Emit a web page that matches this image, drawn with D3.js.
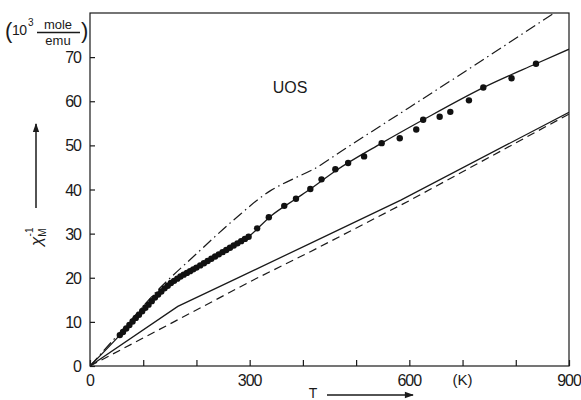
<!DOCTYPE html>
<html>
<head>
<meta charset="utf-8">
<script src="https://cdn.jsdelivr.net/npm/d3@7"></script>
<style>
  body { margin: 0; background: #fff; }
  svg text { font-family: "Liberation Sans", "DejaVu Sans", sans-serif; fill: #1a1a1a; }
</style>
</head>
<body>
<div id="chart"></div>
<script>
"use strict";

// tick labels
var tempLabels = [0, 300, 600, 900];
var tempMinor = [100, 200, 400, 500, 700, 800];
var chiLabels = [0, 10, 20, 30, 40, 50, 60, 70];

// measured points (T in K, inverse susceptibility in 10^3 mole/emu)
var dotT = [56, 62, 68, 74, 80, 86, 92, 98, 104, 110, 116, 122, 128, 134, 140, 146, 152, 158, 164, 170,
    176, 182, 188, 194, 200, 207, 214, 221, 228, 235, 242, 249, 256, 263, 270, 277, 284, 291, 298,
    314, 336, 365, 387, 414, 435, 461, 485, 515, 548, 582, 613, 626, 657, 677, 712, 739, 792, 838];
var dotChi = [7.0, 7.7, 8.5, 9.3, 10.1, 10.9, 11.6, 12.4, 13.2, 13.9, 14.7, 15.5, 16.2, 16.9, 17.6, 18.2, 18.8, 19.3, 19.8, 20.3,
    20.7, 21.1, 21.5, 21.9, 22.3, 22.8, 23.3, 23.8, 24.3, 24.8, 25.3, 25.8, 26.3, 26.8, 27.3, 27.8, 28.3, 28.8, 29.3,
    31.2, 33.7, 36.3, 37.9, 40.1, 42.3, 44.6, 46.0, 47.5, 50.5, 51.6, 53.6, 55.8, 56.5, 57.6, 60.2, 63.1, 65.2, 68.5];

// upper solid curve (fit through the points)
var fitT = [0, 56, 100, 148, 198, 245, 300, 340, 387, 414, 461, 548, 626, 739, 838, 900];
var fitChi = [0, 7.0, 13.0, 18.4, 22.0, 25.2, 29.5, 34.0, 37.9, 40.1, 44.2, 50.5, 55.8, 63.1, 68.5, 71.8];

// dash-dot curve
var dashDotT = [0, 66, 130, 198, 270, 340, 380, 420, 480, 600, 750, 872];
var dashDotChi = [0, 8.9, 17.5, 25.2, 33.1, 39.8, 42.3, 44.6, 49.3, 58.6, 70.3, 80];

// lower solid curve
var lowSolidT = [0, 165, 270, 414, 584, 900];
var lowSolidChi = [0, 13.5, 19.5, 27.8, 37.6, 57.5];

// lower dashed curve
var lowDashT = [0, 307, 414, 602, 900];
var lowDashChi = [0, 19.5, 25.9, 37.6, 57.1];

var W = 581, H = 400,
    plotL = 90, plotR = 569, plotT = 13, plotB = 366,
    ink = "#1a1a1a";

var svg = d3.select("#chart")
    .append("svg")
    .attr("width", W)
    .attr("height", H);

var x = d3.scaleLinear().domain([0, 900]).range([plotL, plotR]);
var y = d3.scaleLinear().domain([0, 80]).range([plotB, plotT]);

var zip = function (a, b) { return a.map(function (v, i) { return [v, b[i]]; }); };

// frame
svg.append("rect")
    .attr("x", plotL).attr("y", plotT)
    .attr("width", plotR - plotL).attr("height", plotB - plotT)
    .attr("fill", "none").attr("stroke", ink).attr("stroke-width", 1.2);

// y axis ticks (pointing inward)
var yAxis = d3.axisRight(y).tickValues(chiLabels).tickSize(5).tickFormat("");
svg.append("g").attr("transform", "translate(" + plotL + ",0)").call(yAxis)
    .call(function (g) { g.select(".domain").remove(); })
    .selectAll("line").attr("stroke", ink).attr("stroke-width", 1.2);

svg.selectAll("text.ylab")
    .data(chiLabels)
    .enter()
    .append("text")
    .attr("class", "ylab")
    .attr("x", 81)
    .attr("y", function (d) { return y(d) + 6; })
    .attr("text-anchor", "end")
    .attr("font-size", 16)
    .attr("letter-spacing", -1)
    .text(function (d) { return d; });

// x axis ticks (pointing inward)
var xAxis = d3.axisTop(x).tickValues(tempLabels.concat(tempMinor)).tickSize(6).tickFormat("");
svg.append("g").attr("transform", "translate(0," + plotB + ")").call(xAxis)
    .call(function (g) { g.select(".domain").remove(); })
    .selectAll("line").attr("stroke", ink).attr("stroke-width", 1.2);

svg.selectAll("text.xlab")
    .data(tempLabels)
    .enter()
    .append("text")
    .attr("class", "xlab")
    .attr("x", function (d) { return x(d); })
    .attr("y", 386)
    .attr("text-anchor", "middle")
    .attr("font-size", 16)
    .attr("letter-spacing", -1)
    .text(function (d) { return d; });

svg.append("text")
    .attr("x", x(700)).attr("y", 385)
    .attr("text-anchor", "middle")
    .attr("font-size", 15)
    .text("(K)");

// T arrow label
svg.append("text")
    .attr("x", 313).attr("y", 398)
    .attr("text-anchor", "middle")
    .attr("font-size", 14)
    .text("T");

var defs = svg.append("defs");
defs.append("marker")
    .attr("id", "arrow")
    .attr("viewBox", "0 0 10 10")
    .attr("refX", 9).attr("refY", 5)
    .attr("markerWidth", 7).attr("markerHeight", 6)
    .attr("orient", "auto")
    .append("path")
    .attr("d", "M0,1.5 L10,5 L0,8.5 Z")
    .attr("fill", ink);

svg.append("line")
    .attr("x1", 327).attr("y1", 395).attr("x2", 413).attr("y2", 395)
    .attr("stroke", ink).attr("stroke-width", 1.5)
    .attr("marker-end", "url(#arrow)");

// y label with arrow
svg.append("line")
    .attr("x1", 36).attr("y1", 208).attr("x2", 36).attr("y2", 124)
    .attr("stroke", ink).attr("stroke-width", 1.5)
    .attr("marker-end", "url(#arrow)");

var ylab = svg.append("text")
    .attr("transform", "translate(42,246) rotate(-90)")
    .attr("font-size", 17)
    .attr("font-style", "italic");
ylab.append("tspan").text("\u03c7");
ylab.append("tspan").attr("font-size", 10).attr("dy", 4).attr("font-style", "normal").text("M");
ylab.append("tspan").attr("font-size", 10).attr("dy", -13).attr("dx", -8).attr("font-style", "normal").text("-1");

// units
svg.append("text").attr("x", 5).attr("y", 38).attr("font-size", 22).attr("font-weight", 300).text("(");
svg.append("text").attr("x", 81).attr("y", 38).attr("font-size", 22).attr("font-weight", 300).text(")");
svg.append("text").attr("x", 12).attr("y", 35).attr("font-size", 14).attr("letter-spacing", -0.5).text("10");
svg.append("text").attr("x", 28).attr("y", 26).attr("font-size", 10).text("3");
svg.append("text").attr("x", 58).attr("y", 29).attr("text-anchor", "middle").attr("font-size", 13).text("mole");
svg.append("line").attr("x1", 37).attr("x2", 80).attr("y1", 32.5).attr("y2", 32.5)
    .attr("stroke", ink).attr("stroke-width", 1.3);
svg.append("text").attr("x", 58).attr("y", 45).attr("text-anchor", "middle").attr("font-size", 13).text("emu");

// compound label
svg.append("text")
    .attr("x", 290).attr("y", 93)
    .attr("text-anchor", "middle")
    .attr("font-size", 16)
    .text("UOS");

// curves
defs.append("clipPath").attr("id", "plot")
    .append("rect").attr("x", plotL).attr("y", plotT).attr("width", plotR - plotL).attr("height", plotB - plotT);

var line = d3.line()
    .x(function (d) { return x(d[0]); })
    .y(function (d) { return y(d[1]); });
var smooth = d3.line()
    .x(function (d) { return x(d[0]); })
    .y(function (d) { return y(d[1]); })
    .curve(d3.curveMonotoneX);

var plot = svg.append("g").attr("clip-path", "url(#plot)");

plot.append("path")
    .datum(zip(lowDashT, lowDashChi))
    .attr("d", line)
    .attr("fill", "none").attr("stroke", ink).attr("stroke-width", 1.2)
    .attr("stroke-dasharray", "8,5");

plot.append("path")
    .datum(zip(lowSolidT, lowSolidChi))
    .attr("d", line)
    .attr("fill", "none").attr("stroke", ink).attr("stroke-width", 1.3);

plot.append("path")
    .datum(zip(dashDotT, dashDotChi))
    .attr("d", smooth)
    .attr("fill", "none").attr("stroke", ink).attr("stroke-width", 1.2)
    .attr("stroke-dasharray", "11,4,1.5,4");

plot.append("path")
    .datum(zip(fitT, fitChi))
    .attr("d", smooth)
    .attr("fill", "none").attr("stroke", ink).attr("stroke-width", 1.3);

plot.selectAll("circle")
    .data(zip(dotT, dotChi))
    .enter()
    .append("circle")
    .attr("cx", function (d) { return x(d[0]); })
    .attr("cy", function (d) { return y(d[1]); })
    .attr("r", 3.2)
    .attr("fill", "#111");
</script>
</body>
</html>
